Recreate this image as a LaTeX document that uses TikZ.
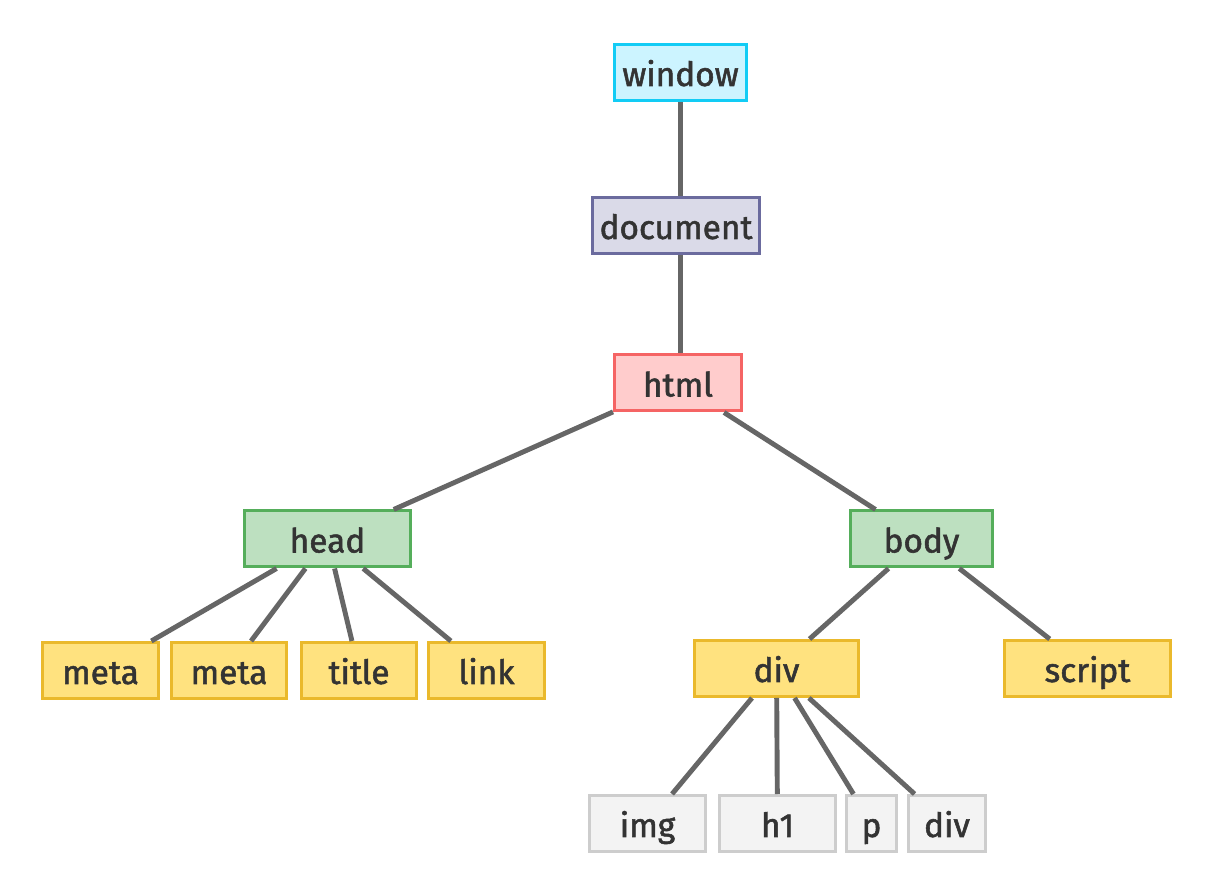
\documentclass[tikz,border=0pt]{standalone}
\usepackage{fontspec}
\setmainfont{Fira Sans}
\newfontfamily\nodefont{Fira Sans}[FakeBold=1.6]
\usepackage{xcolor}
\usepackage{tikz}
\usetikzlibrary{positioning}

\definecolor{winfill}{HTML}{CCF4FF}
\definecolor{windraw}{HTML}{12CCF5}
\definecolor{docfill}{HTML}{DADAE8}
\definecolor{docdraw}{HTML}{6B6B9E}
\definecolor{htmlfill}{HTML}{FFCCCC}
\definecolor{htmldraw}{HTML}{F56464}
\definecolor{secfill}{HTML}{BDE0C0}
\definecolor{secdraw}{HTML}{55AE5B}
\definecolor{tagfill}{HTML}{FFE27F}
\definecolor{tagdraw}{HTML}{EAB92C}
\definecolor{leaffill}{HTML}{F3F3F3}
\definecolor{leafdraw}{HTML}{CDCDCD}
\definecolor{edgegray}{HTML}{666666}
\definecolor{textgray}{HTML}{333333}

\begin{document}
\begin{tikzpicture}[
  box/.style={draw, line width=1.7pt, minimum height=1.12cm, inner sep=0pt,
              text height=0.54cm, text depth=0cm, text=textgray,
              font=\nodefont\fontsize{19}{23}\selectfont},
  winbox/.style={box, fill=winfill, draw=windraw},
  docbox/.style={box, fill=docfill, draw=docdraw},
  htmlbox/.style={box, fill=htmlfill, draw=htmldraw},
  secbox/.style={box, fill=secfill, draw=secdraw},
  tagbox/.style={box, fill=tagfill, draw=tagdraw},
  leafbox/.style={box, fill=leaffill, draw=leafdraw},
  link/.style={line width=2.8pt, edgegray}
]
  \useasboundingbox (0,0) rectangle (24.2,17.88);

  %--- Top: window, document, html ---
  \node[winbox, minimum width=2.64cm]  (window)   at (13.61, 16.43) {window};
  \node[docbox, minimum width=3.34cm]  (document) at (13.52, 13.37) {document};
  \node[htmlbox, minimum width=2.54cm] (html)     at (13.56, 10.22) {html};

  \draw[link] (window) -- (window |- document.north);
  \draw[link] (window |- document.south) -- (window |- html.north);

  %--- Middle: head and body ---
  \node[secbox, minimum width=3.32cm] (head) at (6.55, 7.10) {head};
  \node[secbox, minimum width=2.84cm] (body) at (18.43, 7.10) {body};

  \draw[link] (html) -- (head);
  \draw[link] (html) -- (body);

  %--- Children of head ---
  \node[tagbox, minimum width=2.32cm] (meta1) at (2.01, 4.47) {meta};
  \node[tagbox, minimum width=2.30cm] (meta2) at (4.58, 4.47) {meta};
  \node[tagbox, minimum width=2.30cm] (title) at (7.18, 4.47) {title};
  \node[tagbox, minimum width=2.32cm] (linkel) at (9.73, 4.47) {link};

  \foreach \c in {meta1, meta2, title, linkel}
    \draw[link] (head) -- (\c);

  %--- Children of body ---
  \node[tagbox, minimum width=3.28cm] (div)    at (15.53, 4.51) {div};
  \node[tagbox, minimum width=3.32cm] (script) at (21.75, 4.51) {script};

  \draw[link] (body) -- (div);
  \draw[link] (body) -- (script);

  %--- Children of div ---
  \node[leafbox, minimum width=2.32cm] (img)  at (12.95, 1.41) {img};
  \node[leafbox, minimum width=2.32cm] (hone) at (15.55, 1.41) {h1};
  \node[leafbox, minimum width=1.00cm] (para) at (17.43, 1.41) {p};
  \node[leafbox, minimum width=1.54cm] (divb) at (18.94, 1.41) {div};

  \foreach \c in {img, hone, para, divb}
    \draw[link] (div) -- (\c);

\end{tikzpicture}
\end{document}
